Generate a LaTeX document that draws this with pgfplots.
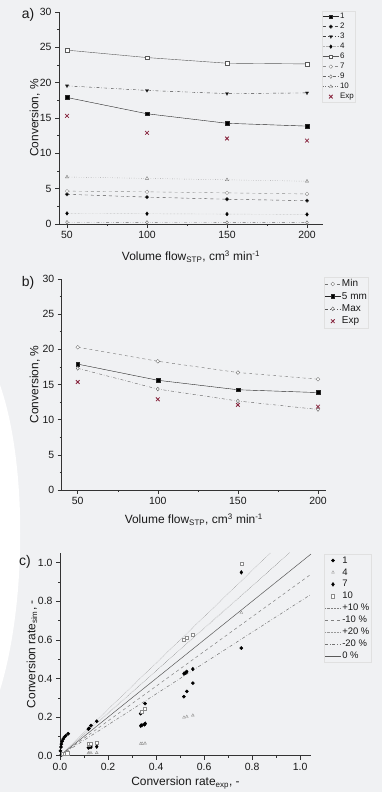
\documentclass[border=0pt]{standalone}
\usepackage{pgfplots}
\pgfplotsset{compat=1.18}
\usepackage{fontspec}
\setmainfont{Liberation Sans}
\definecolor{bg}{RGB}{240,241,243}
\definecolor{expred}{RGB}{135,35,60}

\pgfplotsset{
  base/.style={scale only axis, axis x line*=bottom, axis y line*=left,
    axis line style={black!80, line width=0.6pt},
    tick align=outside, major tick length=4bp, minor tick length=2bp,
    tick style={black!80, line width=0.5pt},
    tick label style={font=\fontsize{10.5}{11}\selectfont, text=black!90},
    label style={font=\fontsize{12}{13}\selectfont, text=black!90},
    /pgf/number format/assume math mode=true,
    legend cell align=left,
    legend image code/.code={\draw[mark repeat=2,mark phase=2] plot coordinates {(0bp,0bp) (8bp,0bp) (16bp,0bp)};},
    legend style={draw=black!12, fill=none, anchor=north west, inner sep=0.5bp, row sep=0pt, text=black!90},
  },
}

\begin{document}
\begin{tikzpicture}[x=1bp,y=1bp]
\useasboundingbox (0,0) rectangle (382,792);
\fill[bg] (0,0) rectangle (382,792);
\fill[white] (0,407) .. controls (27,330) and (27,190) .. (0,102) -- cycle;

\node[font=\fontsize{14}{14}\selectfont, text=black!90] at (28,777) {a)};
\node[font=\fontsize{14}{14}\selectfont, text=black!90] at (28,509) {b)};
\node[font=\fontsize{14}{14}\selectfont, text=black!90] at (25,230) {c)};

% ---------------- panel a
\begin{axis}[base, at={(59bp,568bp)}, anchor=south west, width=264bp, height=212bp,
  xmin=45, xmax=210, ymin=0, ymax=30,
  xtick={50,100,150,200}, ytick={0,5,10,15,20,25,30},
  minor x tick num=1, minor y tick num=1,
  xlabel={Volume flow\textsubscript{STP}, cm\textsuperscript{3} min\textsuperscript{-1}},
  ylabel={Conversion, \%},
  xlabel style={at={(axis description cs:0.5,-0.155)}, anchor=center},
  ylabel style={at={(axis description cs:-0.092,0.5)}, anchor=center},
  legend style={at={(0.996,1.005)}, font=\fontsize{8}{8}\selectfont,
    nodes={inner ysep=1.2bp, inner xsep=1bp, text height=6bp, text depth=1.6bp}},
  every axis plot/.append style={mark size=1.8bp}]
\addplot[black!85, solid, mark=square*, mark options={solid, fill=black}] coordinates {(50,17.9) (100,15.6) (150,14.25) (200,13.85)};
\addlegendentry{1}
\addplot[black!70, dashed, mark=*, mark options={solid, fill=black}] coordinates {(50,4.2) (100,3.8) (150,3.5) (200,3.3)};
\addlegendentry{2}
\addplot[black!75, dash dot, mark=triangle*, mark options={solid, fill=black, rotate=180}] coordinates {(50,19.55) (100,18.9) (150,18.45) (200,18.55)};
\addlegendentry{3}
\addplot[black!30, densely dotted, mark=diamond*, mark options={solid, fill=black, draw=black}] coordinates {(50,1.5) (100,1.45) (150,1.4) (200,1.35)};
\addlegendentry{4}
\addplot[black!65, solid, mark=square*, mark options={solid, fill=white}] coordinates {(50,24.6) (100,23.55) (150,22.75) (200,22.65)};
\addlegendentry{6}
\addplot[black!45, dashed, mark=*, mark options={solid, fill=white}] coordinates {(50,4.65) (100,4.55) (150,4.4) (200,4.25)};
\addlegendentry{7}
\addplot[black!60, dash dot dot, mark=diamond*, mark options={solid, fill=white}] coordinates {(50,0.25) (100,0.22) (150,0.2) (200,0.2)};
\addlegendentry{9}
\addplot[black!55, dotted, mark=triangle*, mark options={solid, fill=white}] coordinates {(50,6.65) (100,6.45) (150,6.25) (200,6.05)};
\addlegendentry{10}
\addplot[only marks, mark=x, mark size=2.6bp, expred, line width=0.8pt] coordinates {(50,15.3) (100,12.9) (150,12.1) (200,11.8)};
\addlegendentry{Exp}
\end{axis}

% ---------------- panel b
\begin{axis}[base, at={(61.7bp,302bp)}, anchor=south west, width=264.3bp, height=211bp,
  xmin=40, xmax=205, ymin=0, ymax=30,
  xtick={50,100,150,200}, ytick={0,5,10,15,20,25,30},
  minor x tick num=1, minor y tick num=1,
  xlabel={Volume flow\textsubscript{STP}, cm\textsuperscript{3} min\textsuperscript{-1}},
  ylabel={Conversion, \%},
  xlabel style={at={(axis description cs:0.5,-0.14)}, anchor=center},
  ylabel style={at={(axis description cs:-0.102,0.5)}, anchor=center},
  legend style={at={(0.992,1.009)}, font=\fontsize{10}{10}\selectfont,
    nodes={inner ysep=1.5bp, inner xsep=1bp, text height=7.4bp, text depth=2bp}},
  every axis plot/.append style={mark size=1.9bp}]
\addplot[black!55, dashed, mark=*, mark options={solid, fill=white}] coordinates {(50,20.3) (100,18.3) (150,16.7) (200,15.75)};
\addlegendentry{Min}
\addplot[black!85, solid, mark=square*, mark options={solid, fill=black}] coordinates {(50,17.9) (100,15.6) (150,14.25) (200,13.85)};
\addlegendentry{5 mm}
\addplot[black!65, dash dot, mark=diamond*, mark options={solid, fill=white}] coordinates {(50,17.3) (100,14.35) (150,12.65) (200,11.45)};
\addlegendentry{Max}
\addplot[only marks, mark=x, mark size=2.6bp, expred, line width=0.8pt] coordinates {(50,15.35) (100,12.9) (150,12.1) (200,11.85)};
\addlegendentry{Exp}
\end{axis}

% ---------------- panel c
\begin{axis}[base, at={(60bp,36.3bp)}, anchor=south west, width=251bp, height=203bp,
  xmin=0, xmax=1.045, ymin=0, ymax=1.052,
  xtick={0,0.2,0.4,0.6,0.8,1}, ytick={0,0.2,0.4,0.6,0.8,1},
  minor x tick num=1, minor y tick num=1,
  /pgf/number format/fixed, /pgf/number format/fixed zerofill, /pgf/number format/precision=1,
  xlabel={Conversion rate\textsubscript{exp}, -},
  ylabel={Conversion rate\textsubscript{sim}, -},
  xlabel style={at={(axis description cs:0.5,-0.135)}, anchor=center},
  ylabel style={at={(axis description cs:-0.112,0.5)}, anchor=center},
  legend style={at={(1.052,0.994)}, font=\fontsize{9.5}{10}\selectfont,
    nodes={inner ysep=1.5bp, inner xsep=1bp, text height=7bp, text depth=1.9bp}},
  every axis plot/.append style={mark size=1.6bp}]
% reference lines (drawn first, behind the points)
\addplot[black!50, line width=0.5pt, densely dotted, forget plot] coordinates {(0,0) (0.9564,1.052)};
\addplot[black!50, line width=0.5pt, dashed, forget plot] coordinates {(0,0) (1.045,0.9405)};
\addplot[black!40, line width=0.5pt, densely dotted, forget plot] coordinates {(0,0) (0.8767,1.052)};
\addplot[black!55, line width=0.5pt, dash dot, forget plot] coordinates {(0,0) (1.045,0.836)};
\addplot[black!65, line width=0.5pt, solid, forget plot] coordinates {(0,0) (1.045,1.045)};
% series
\addplot[only marks, mark=*, black] coordinates {
 (0.002,0.025) (0.004,0.045) (0.006,0.06) (0.009,0.074) (0.013,0.086) (0.018,0.096) (0.024,0.104) (0.034,0.114)
 (0.118,0.138) (0.121,0.142) (0.129,0.156) (0.153,0.179)
 (0.336,0.218) (0.354,0.270)
 (0.516,0.306) (0.528,0.333) (0.553,0.376)
 (0.755,0.558)};
\addlegendentry{1}
\addplot[only marks, mark=triangle*, mark options={fill=white, draw=black!45}] coordinates {
 (0.006,0.003) (0.015,0.005) (0.026,0.006)
 (0.118,0.013) (0.121,0.014) (0.129,0.014) (0.153,0.015)
 (0.336,0.062) (0.342,0.063) (0.354,0.064)
 (0.516,0.198) (0.528,0.202) (0.553,0.209)
 (0.755,0.741)};
\addlegendentry{4}
\addplot[only marks, mark=diamond*, mark size=1.9bp, mark options={fill=black, draw=black}] coordinates {
 (0.005,0.005) (0.012,0.008) (0.022,0.01)
 (0.118,0.042) (0.121,0.044) (0.129,0.045) (0.153,0.047)
 (0.336,0.155) (0.341,0.158) (0.351,0.162) (0.355,0.166)
 (0.516,0.425) (0.522,0.430) (0.528,0.435) (0.553,0.449)
 (0.755,0.950)};
\addlegendentry{7}
\addplot[only marks, mark=square*, mark options={fill=white, draw=black!45}] coordinates {
 (0.01,0.01) (0.02,0.012) (0.03,0.013)
 (0.118,0.060) (0.121,0.062) (0.129,0.064) (0.153,0.066)
 (0.340,0.228) (0.354,0.242)
 (0.516,0.603) (0.528,0.611) (0.553,0.627)
 (0.755,0.995)};
\addlegendentry{10}
\addlegendimage{black!50, line width=0.5pt, densely dotted}
\addlegendentry{+10 \%}
\addlegendimage{black!50, line width=0.5pt, dashed}
\addlegendentry{-10 \%}
\addlegendimage{black!40, line width=0.5pt, densely dotted}
\addlegendentry{+20 \%}
\addlegendimage{black!55, line width=0.5pt, dash dot}
\addlegendentry{-20 \%}
\addlegendimage{black!65, line width=0.5pt, solid}
\addlegendentry{0 \%}
\end{axis}
\end{tikzpicture}
\end{document}
